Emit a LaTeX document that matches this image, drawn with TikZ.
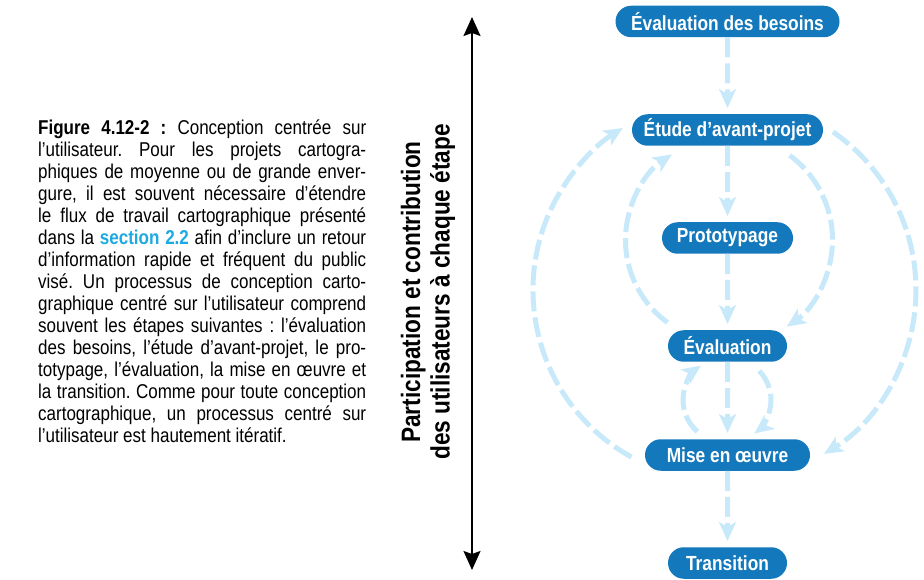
\documentclass[tikz,border=0pt]{standalone}
\usepackage{fontspec}
\newfontfamily\cond[FakeStretch=0.85]{Liberation Sans}
\usetikzlibrary{arrows.meta,shapes.misc,calc}
\definecolor{nodeblue}{RGB}{20,121,188}
\definecolor{flowblue}{RGB}{200,233,249}
\definecolor{linkblue}{RGB}{29,169,225}
\newcommand{\jl}[1]{\makebox[328pt][s]{#1}}
\frenchspacing
\begin{document}
\begin{tikzpicture}[x=1pt,y=1pt,
  stage/.style={rounded rectangle, fill=nodeblue, text=white,
    font=\cond\bfseries\fontsize{20.4}{22}\selectfont,
    minimum height=31.5pt, inner sep=0pt},
  flow/.style={draw=flowblue, line width=5pt, dash pattern=on 20pt off 6pt,
    -{Stealth[length=19pt,width=17pt,inset=5pt]}},
  axisline/.style={draw=black, line width=2pt,
    {Stealth[length=19pt,width=17pt,inset=3pt]}-{Stealth[length=19pt,width=17pt,inset=3pt]}},
  sidelabel/.style={font=\cond\bfseries\fontsize{26.6}{29.5}\selectfont, align=center, inner sep=0pt},
  captiontext/.style={font=\cond\fontsize{20}{22}\selectfont, align=left, inner sep=0pt}
]
\useasboundingbox (0,0) rectangle (924,579);

% stages
\node[stage, minimum width=224pt] (besoins) at (727.5,557.5) {Évaluation des besoins};
\node[stage, minimum width=191pt] (etude)   at (727.5,449) {Étude d’avant-projet};
\node[stage, minimum width=131pt] (proto)   at (727.5,341) {Prototypage};
\node[stage, minimum width=119pt] (eval)    at (727.5,233) {Évaluation};
\node[stage, minimum width=165pt] (mise)    at (727.5,124) {Mise en œuvre};
\node[stage, minimum width=119pt] (trans)   at (727.5,16)  {Transition};

% straight flows
\draw[flow, shorten >=6pt] (besoins) -- (etude);
\draw[flow, shorten >=6pt] (etude) -- (proto);
\draw[flow, shorten >=6pt] (proto) -- (eval);
\draw[flow, shorten >=6pt] (eval) -- (mise);
\draw[flow, shorten >=6pt] (mise) -- (trans);

% arc centres
\coordinate (ic) at (727.5,339);
\coordinate (oc) at (724,289);
\coordinate (scl) at (725,179);
\coordinate (scr) at (729,179);

% inner arcs
\coordinate (ir) at ($(ic)+(53.7:105)$);
\draw[flow] (ir) arc[start angle=53.7, end angle=-55.6, radius=105];
\coordinate (il) at ($(ic)+(234:102)$);
\draw[flow] (il) arc[start angle=234, end angle=123, radius=102];

% outer arcs
\coordinate (or) at ($(oc)+(55.4:192)$);
\draw[flow] (or) arc[start angle=55.4, end angle=-58.6, radius=192];
\coordinate (ol) at ($(oc)+(241:191)$);
\draw[flow] (ol) arc[start angle=241, end angle=122, radius=191];

% small arcs
\coordinate (sl) at ($(scl)+(229:42)$);
\draw[flow] (sl) arc[start angle=229, end angle=125, radius=42];
\coordinate (sr) at ($(scr)+(44:42)$);
\draw[flow] (sr) arc[start angle=44, end angle=-53, radius=42];

% vertical axis
\coordinate (axtop) at (472,562);
\coordinate (axbot) at (472,9);
\draw[axisline] (axtop) -- (axbot);
\node[sidelabel, rotate=90] (side) at (428,287)
  {Participation et contribution\\des utilisateurs à chaque étape};

% caption
\node[captiontext, anchor=north west] (caption) at (38,459) {%
\jl{{\bfseries Figure 4.12-2 :} Conception centrée sur}\\
\jl{l’utilisateur. Pour les projets cartogra-}\\
\jl{phiques de moyenne ou de grande enver-}\\
\jl{gure, il est souvent nécessaire d’étendre}\\
\jl{le flux de travail cartographique présenté}\\
\jl{dans la {\bfseries\color{linkblue}section 2.2} afin d’inclure un retour}\\
\jl{d’information rapide et fréquent du public}\\
\jl{visé. Un processus de conception carto-}\\
\jl{graphique centré sur l’utilisateur comprend}\\
\jl{souvent les étapes suivantes : l’évaluation}\\
\jl{des besoins, l’étude d’avant-projet, le pro-}\\
\jl{totypage, l’évaluation, la mise en œuvre et}\\
\jl{la transition. Comme pour toute conception}\\
\jl{cartographique, un processus centré sur}\\
l’utilisateur est hautement itératif.};
\end{tikzpicture}
\end{document}
